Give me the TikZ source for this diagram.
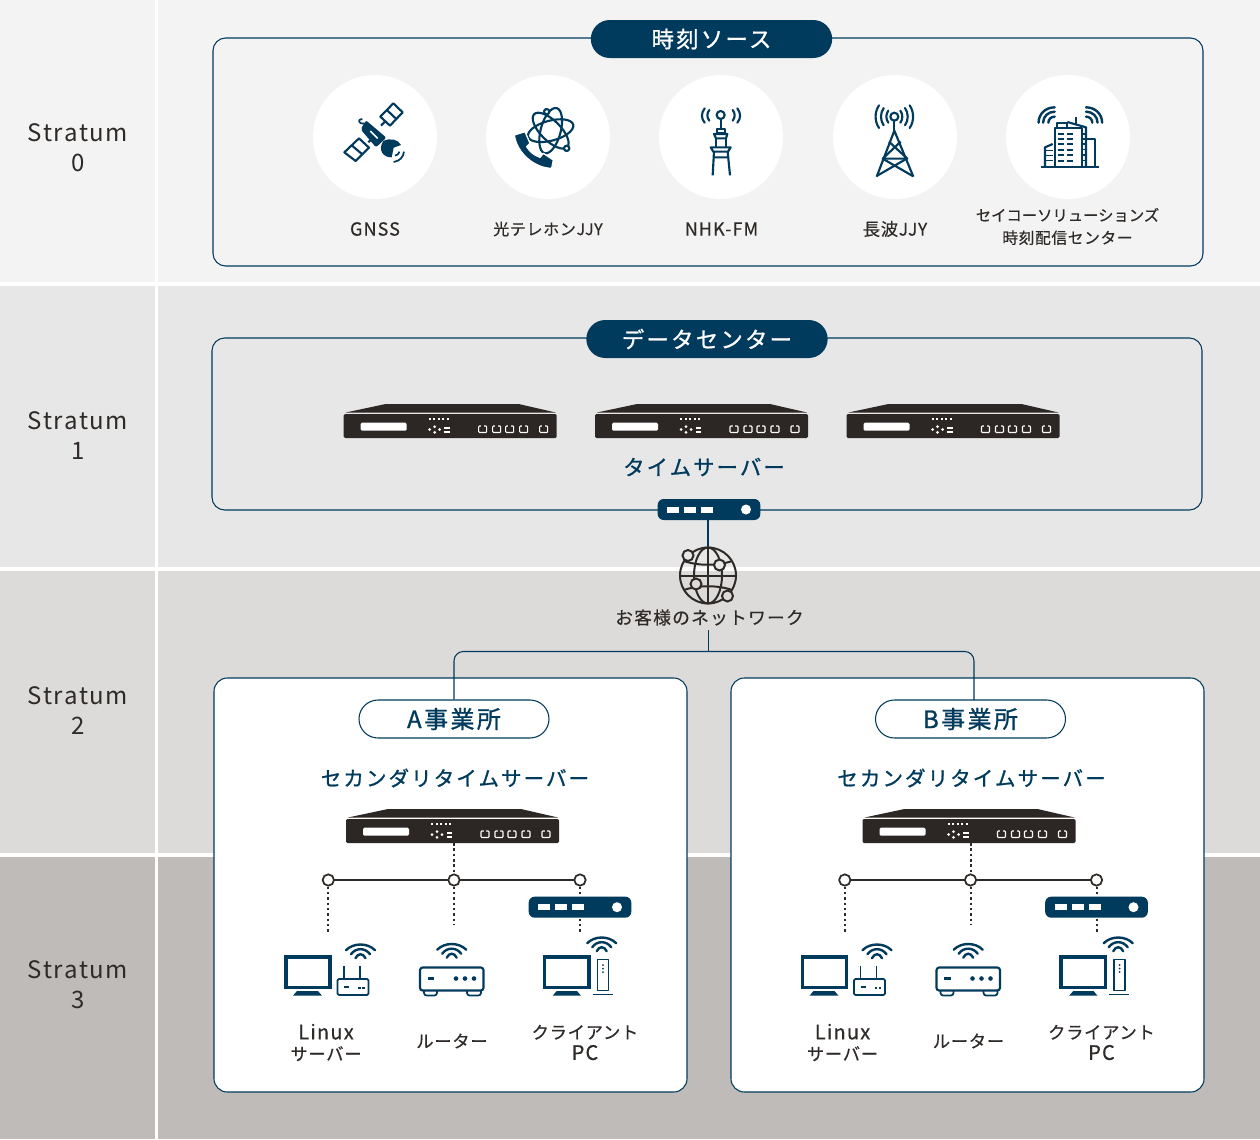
\documentclass[tikz,border=0pt]{standalone}
\usepackage{fontspec}
\newfontfamily\jpreg[LetterSpace=4,FakeBold=0.4]{Noto Sans CJK JP}
\newfontfamily\jptight[LetterSpace=0,FakeBold=0.4]{Noto Sans CJK JP}
\newfontfamily\jplat[LetterSpace=6,FakeBold=0.4]{Noto Sans CJK JP}
\newfontfamily\jpwide[LetterSpace=7]{Noto Sans CJK JP}
\newfontfamily\jpnet[LetterSpace=7,FakeBold=0.4]{Noto Sans CJK JP}
\newfontfamily\jpmed[LetterSpace=10,FakeBold=1]{Noto Sans CJK JP}
\definecolor{navy}{HTML}{003A5D}
\definecolor{ink}{HTML}{2E2A28}
\definecolor{srv}{HTML}{2C2624}
\definecolor{rowa}{HTML}{F4F3F3}
\definecolor{rowb}{HTML}{E8E7E7}
\definecolor{rowc}{HTML}{DCDBD9}
\definecolor{rowd}{HTML}{BFBBB8}
\newcommand{\wifi}[2]{%
  \draw[wave] (#1-14.5,#2+5.7) .. controls (#1-7,#2-1.9) and (#1+7,#2-1.9) .. (#1+14.5,#2+5.7);
  \draw[wave] (#1-9.5,#2+9.7) .. controls (#1-4.7,#2+3) and (#1+4.7,#2+3) .. (#1+9.5,#2+9.7);
  \draw[wave] (#1-5,#2+13.7) .. controls (#1-2.5,#2+8.4) and (#1+2.5,#2+8.4) .. (#1+5,#2+13.7);
}
\tikzset{
  x=0.75pt,y=-0.75pt,
  wave/.style={draw=navy,line width=1.8pt,line cap=round},
  icon/.style={draw=navy,line width=1.6pt,line join=round},
  iconthin/.style={draw=navy,line width=1.3pt,line join=round},
  solidnavy/.style={fill=navy,draw=none},
  frame/.style={draw=navy,line width=0.8pt,rounded corners=9.5pt,fill=none,inner sep=0pt},
  whitebox/.style={draw=navy,line width=0.8pt,rounded corners=10pt,fill=white,inner sep=0pt,minimum width=354.75pt,minimum height=310.5pt},
  titlepill/.style={fill=navy,text=white,rounded corners=14.25pt,minimum width=181pt,minimum height=28.5pt,inner sep=0pt,font=\jpmed\fontsize{16.8}{18}\selectfont},
  sitepill/.style={draw=navy,line width=0.8pt,fill=white,rounded corners=14.25pt,minimum width=142.5pt,minimum height=28.5pt,inner sep=0pt,text=navy,font=\jpmed\fontsize{18}{18}\selectfont},
  sourcedisc/.style={circle,fill=white,minimum size=93pt,inner sep=0pt},
  stratum/.style={text=ink,align=center,font=\jpwide\fontsize{18}{22.5}\selectfont},
  lbl/.style={text=ink,align=center,inner sep=0pt,font=\jpreg\fontsize{12}{17}\selectfont},
  lbllatin/.style={text=ink,align=center,inner sep=0pt,font=\jplat\fontsize{13.5}{17}\selectfont},
  lblbig/.style={text=ink,align=center,inner sep=0pt,font=\jpreg\fontsize{13}{15.8}\selectfont},
  heading/.style={text=navy,inner sep=0pt,font=\jpmed\fontsize{15.4}{18}\selectfont},
  link/.style={draw=navy,line width=0.8pt},
  busline/.style={draw=ink,line width=1.5pt},
  busdot/.style={circle,draw=ink,line width=1.3pt,fill=white,minimum size=8.5pt,inner sep=0pt},
  dotline/.style={draw=ink,line width=1.5pt,dash pattern=on 1.9pt off 2.1pt},
  globeline/.style={draw=ink,line width=1.5pt},
  hub/.style={fill=navy,rounded corners=4.5pt,minimum width=77pt,minimum height=15.75pt,inner sep=0pt},
  serverpic/.pic={
    \fill[srv] (42,0) -- (175,0) -- (212,8.5) -- (2,8.5) -- cycle;
    \fill[srv,rounded corners=1pt] (0,10) rectangle (213,34);
    \fill[white,rounded corners=1pt] (17,18.7) rectangle (63,26.7);
    \foreach \q in {86,90.5,95,99.5,104} \fill[white] (\q-1,14.3) rectangle (\q+1,16.3);
    \foreach \q/\r in {86/25.5,91/22.7,91/28.3,96/25.5} \fill[white] (\q,\r) circle[radius=1.5];
    \fill[white] (100.5,22.6) rectangle (106,24.6);
    \fill[white] (100.5,27) rectangle (106,29);
    \foreach \q in {135,149,162,176,196} {
      \draw[white,line width=0.8pt,rounded corners=0.7pt] (\q,22) rectangle (\q+8,28.5);
      \draw[srv,line width=1pt] (\q+2.7,22) -- (\q+5.3,22);
    }
    \coordinate (-bot) at (108,34);
  },
  hubpic/.pic={
    \node[hub] (-body) at (0,0) {};
    \foreach \q in {-36,-19,-2} \fill[white] (\q-6,-3) rectangle (\q+6,3);
    \fill[white] (37,0) circle[radius=5];
  },
}
\begin{document}
\begin{tikzpicture}
\useasboundingbox (0,0) rectangle (1260,1139);
\fill[white] (0,0) rectangle (1260,1139);
% bands
\fill[rowa] (0,0) rectangle (155,282);   \fill[rowa] (158,0) rectangle (1260,282);
\fill[rowb] (0,286) rectangle (155,567); \fill[rowb] (158,286) rectangle (1260,567);
\fill[rowc] (0,571) rectangle (155,853); \fill[rowc] (158,571) rectangle (1260,853);
\fill[rowd] (0,857) rectangle (155,1139);\fill[rowd] (158,857) rectangle (1260,1139);
% stratum labels
\node[stratum] (s0) at (78,148) {Stratum\\0};
\node[stratum] (s1) at (78,436) {Stratum\\1};
\node[stratum] (s2) at (78,711) {Stratum\\2};
\node[stratum] (s3) at (78,985) {Stratum\\3};
% stratum 0
\node[frame,minimum width=742.5pt,minimum height=171pt] (box0) at (708,152) {};
\node[titlepill] (title0) at (711.5,39) {時刻ソース};
\node[sourcedisc] (d1) at (375,137) {};
\node[sourcedisc] (d2) at (548,137) {};
\node[sourcedisc] (d3) at (721,137) {};
\node[sourcedisc] (d4) at (895,137) {};
\node[sourcedisc] (d5) at (1068,137) {};
\node[lbllatin] (l1) at (375,229) {GNSS};
\node[lbl] (l2) at (548,229) {光テレホンJJY};
\node[lbllatin] (l3) at (721.5,229) {NHK-FM};
\node[lbl,font=\jpreg\fontsize{13}{17}\selectfont] (l4) at (895,229) {長波JJY};
\node[lbl,font=\jptight\fontsize{11.5}{17}\selectfont] (l5) at (1067.5,226.5) {セイコーソリューションズ\\{\jpreg\fontsize{11.8}{17}\selectfont 時刻配信センター}};
% satellite
\begin{scope}[shift={(335,95)},x=0.25pt,y=-0.25pt]
\draw[icon] (175,25) -- (203,52) -- (165,92) -- (136,65) -- cycle (155.5,45) -- (184,72);
\draw[icon] (72,130) -- (102,158) -- (62,198) -- (28,172) -- cycle (50,151) -- (82,178);
\draw[icon] (100,142) -- (112,130) (138,92) -- (150,80);
\fill[navy,rounded corners=1.5pt] (93,76) -- (154,128) -- (123,157) -- (77,103) -- cycle;
\draw[white,line width=1.2pt] (106,108) -- (128,130);
\draw[iconthin] (88,86) .. controls (70,88) and (66,72) .. (82,72);
\fill[navy] (145,138) .. controls (165,128) and (190,133) .. (198,150) -- (176,158) -- (170,187) .. controls (145,188) and (127,165) .. (145,138) -- cycle;
\draw[iconthin] (180,182) .. controls (188,181) and (192,176) .. (193,170);
\draw[iconthin] (176,201) .. controls (195,198) and (205,186) .. (207,170);
\end{scope}
% phone and atom
\begin{scope}[shift={(505,100)},x=0.25pt,y=-0.25pt]
\foreach \a in {15,75,135}
  \draw[icon,rotate around={\a:(137,92)}] (137,92) ellipse[x radius=70,y radius=30];
\draw[icon,fill=white] (125,35) circle[radius=8];
\draw[icon,fill=white] (185,145) circle[radius=8];
\draw[draw=white,line width=1pt,fill=navy,line join=round] (28,105) -- (60,95) -- (75,130) -- (65,140) .. controls (75,155) and (85,165) .. (105,172) -- (115,160) -- (145,180) -- (140,205) .. controls (90,205) and (35,160) .. (28,105) -- cycle;
\end{scope}
% NHK tower
\begin{scope}[shift={(690,100)},x=0.25pt,y=-0.25pt]
\draw[icon] (92,45) circle[radius=12];
\draw[icon,line cap=round] (58,30) .. controls (50,40) and (50,52) .. (58,62);
\draw[icon,line cap=round] (44,25) .. controls (33,40) and (33,55) .. (44,68);
\draw[icon,line cap=round] (128,30) .. controls (136,40) and (136,52) .. (128,62);
\draw[icon,line cap=round] (142,25) .. controls (153,40) and (153,55) .. (142,68);
\draw[icon] (92,57) -- (92,88);
\draw[icon] (82,88) rectangle (104,100);
\draw[icon] (72,102) -- (112,102) -- (108,115) -- (78,115) -- cycle;
\draw[icon] (78,115) -- (78,140) (108,115) -- (108,140);
\draw[icon] (62,142) -- (122,142) -- (114,155) -- (70,155) -- cycle;
\draw[icon] (72,155) -- (68,226) (113,155) -- (120,226) (71,172) -- (115,172);
\end{scope}
% longwave tower
\begin{scope}[shift={(790,60)},x=0.25pt,y=-0.25pt]
\draw[icon] (313,170) circle[radius=12];
\foreach \o/\h in {0/18,14/26,28/34} {
  \draw[icon,line cap=round] (295-\o,170-\h) .. controls (287-\o*1.2,170-\h*0.4) and (287-\o*1.2,170+\h*0.4) .. (295-\o,170+\h);
  \draw[icon,line cap=round] (331+\o,170-\h) .. controls (339+\o*1.2,170-\h*0.4) and (339+\o*1.2,170+\h*0.4) .. (331+\o,170+\h);
}
\draw[icon] (313,183) -- (313,212);
\draw[icon] (260,350) -- (313,212) -- (370,350);
\draw[icon] (297,245) -- (352,296) -- (278,296) -- (332,245);
\draw[icon] (278,296) -- (368,348) (350,296) -- (260,348);
\end{scope}
% building
\begin{scope}[shift={(1030,100)},x=0.25pt,y=-0.25pt]
\draw[icon] (32,200) -- (208,200);
\draw[icon] (75,198) -- (75,85) -- (155,85) -- (155,198);
\draw[icon] (80,85) -- (80,70) -- (110,70) -- (110,85);
\draw[icon] (112,66) -- (168,82) -- (168,198);
\draw[icon] (138,50) -- (138,75);
\draw[icon] (170,118) -- (196,118) -- (196,198);
\draw[icon] (45,198) -- (45,142) -- (68,132);
\foreach \r in {100,115,130,147,163,180} {
  \fill[navy] (84,\r) rectangle (103,\r+6);
  \fill[navy] (110,\r) rectangle (128,\r+6);
  \fill[navy] (156,\r) rectangle (168,\r+4);
}
\foreach \r in {150,165,180} \fill[navy] (48,\r) rectangle (68,\r+4);
\foreach \k in {46,33,18} {
  \draw[icon,line width=1.8pt,line cap=round] (74-\k*1.05,68) .. controls (74-\k*1.05,68-\k*0.58) and (74-\k*0.58,68-\k) .. (74,68-\k);
  \draw[icon,line width=1.8pt,line cap=round] (168+\k*1.05,68) .. controls (168+\k*1.05,68-\k*0.58) and (168+\k*0.58,68-\k) .. (168,68-\k);
}
\end{scope}
% stratum 1
\node[frame,minimum width=742.5pt,minimum height=129pt] (box1) at (707,424) {};
\node[titlepill] (title1) at (707,339) {データセンター};
\pic (srv1) at (343.7,404) {serverpic};
\pic (srv2) at (595,404) {serverpic};
\pic (srv3) at (846.5,404) {serverpic};
\node[heading,font=\jpmed\fontsize{16}{18}\selectfont] (tsrv) at (704,467) {タイムサーバー};
\pic (hubC) at (709,509.5) {hubpic};
% network
\coordinate (junction) at (708.5,651.5);
\node[circle,globeline,minimum size=42pt,inner sep=0pt] (globe) at (708,575.5) {};
\draw[globeline] (708,547.5) -- (708,603.5) (680,575.5) -- (736,575.5);
\draw[globeline] (708,575.5) ellipse[x radius=14,y radius=28];
\draw[globeline] (684,561) .. controls (698,566) and (718,566) .. (732,561);
\draw[globeline] (684,590) .. controls (698,585) and (718,585) .. (732,590);
\draw[globeline,fill=rowb] (688,555.5) circle[radius=5.5];
\draw[globeline,fill=rowb] (719.5,565) circle[radius=5.5];
\draw[globeline,fill=rowc] (696,584) circle[radius=5.5];
\draw[globeline,fill=rowc] (727.5,596) circle[radius=5.5];
\node[lbl,font=\jpnet\fontsize{13.3}{15}\selectfont] (net) at (709.5,617.5) {お客様のネットワーク};
\draw[link] (hubC-body.south -| globe.north) -- (globe.north);
\draw[link] (junction |- 0,630) -- (junction);
% sites
\node[whitebox] (boxA) at (450.5,885) {};
\node[whitebox] (boxB) at (967.5,885) {};
\foreach \s/\dx/\t in {A/0/A事業所,B/516.5/B事業所} {
\begin{scope}[shift={(\dx,0)}]
\node[sitepill] (pill\s) at (454,719) {\t};
\node[heading] (head\s) at (455,778) {セカンダリタイムサーバー};
\pic (srv\s) at (346,809) {serverpic};
\draw[busline] (328.3,880) -- (580,880);
\node[busdot] (bus\s a) at (328.3,880) {};
\node[busdot] (bus\s b) at (454,880) {};
\node[busdot] (bus\s c) at (580,880) {};
\coordinate (end\s a) at (328.3,932);
\coordinate (end\s b) at (454,925);
\coordinate (end\s c) at (580,932);
\draw[dotline] (srv\s-bot |- 0,843) -- (bus\s b.north);
\draw[dotline] (bus\s a.south) -- (end\s a);
\draw[dotline] (bus\s b.south) -- (end\s b);
\draw[dotline] (bus\s c.south) -- (end\s c);
\pic (hub\s) at (580,907.2) {hubpic};
% server PC and wireless router
\draw[navy,line width=2.6pt] (285.8,957) rectangle (330,987.6);
\fill[navy] (293,995.7) -- (297,991) -- (318,991) -- (322,995.7) -- cycle;
\draw[iconthin,rounded corners=1pt] (337.5,979) rectangle (368.5,995);
\draw[iconthin] (344,979) -- (344,966) (360,979) -- (360,966);
\fill[navy] (344,986) rectangle (349,988);
\fill[navy] (358,986.5) rectangle (360.5,988.5);
\fill[navy] (362,986.5) rectangle (364.5,988.5);
\wifi{360.5}{944.5}
% router
\draw[icon,rounded corners=2pt] (420,967.5) rectangle (483.5,990.5);
\draw[iconthin,rounded corners=2pt] (424,990.5) -- (424,995.5) -- (437,995.5) -- (437,990.5);
\draw[iconthin,rounded corners=2pt] (467,990.5) -- (467,995.5) -- (481,995.5) -- (481,990.5);
\fill[navy] (427.5,977) rectangle (434,979.5);
\foreach \q in {456,465,474} \fill[navy] (\q,978.5) circle[radius=2.3];
\wifi{451.7}{944}
% client PC
\draw[navy,line width=2.6pt] (544.5,957) rectangle (589,987.6);
\fill[navy] (552.7,995.7) -- (556.7,991) -- (577,991) -- (581,995.7) -- cycle;
\draw[iconthin] (597.5,959.5) rectangle (608.5,990.5);
\draw[iconthin] (592.7,994.5) -- (612.7,994.5);
\foreach \r in {965,968.5,972} \fill[navy] (603,\r) circle[radius=1];
\wifi{601.7}{937.5}
% labels
\node[lblbig] (a\s) at (326,1042.5) {{\jplat\fontsize{15}{15.8}\selectfont Linux}\\サーバー};
\node[lblbig] (b\s) at (452,1041) {ルーター};
\node[lblbig] (c\s) at (585,1042.5) {クライアント\\{\jplat\fontsize{15}{15.8}\selectfont PC}};
\end{scope}
}
\draw[link,rounded corners=7pt] (pillA.north) -- (454,651.5) -- (974,651.5) -- (974,700);
\end{tikzpicture}
\end{document}
